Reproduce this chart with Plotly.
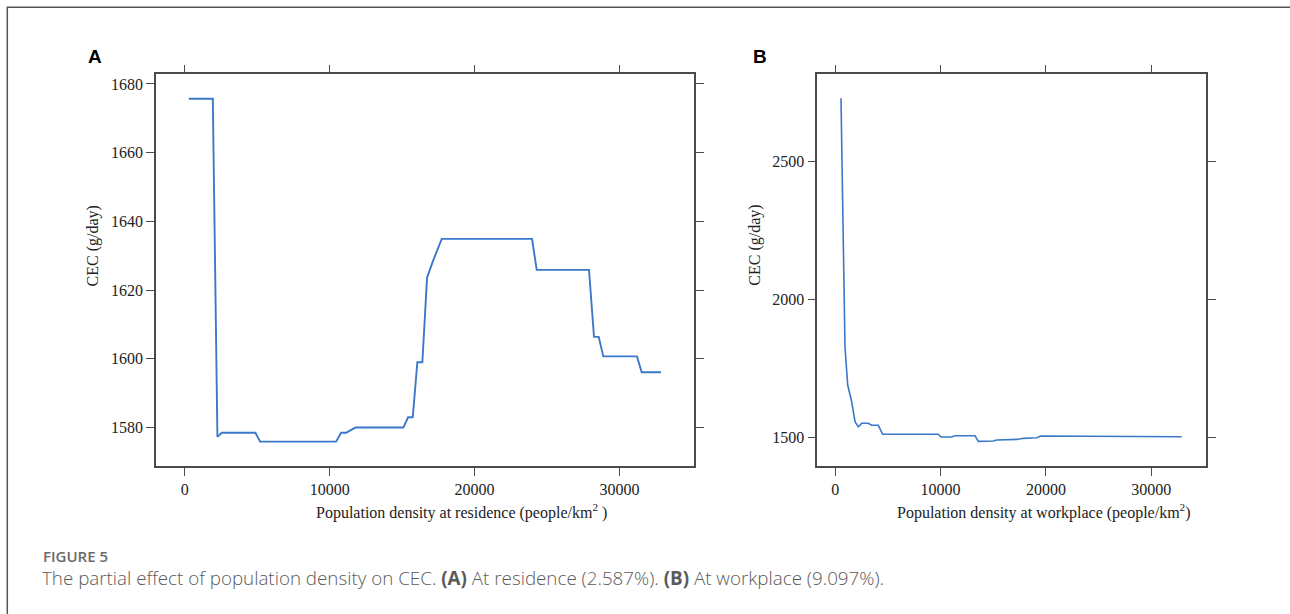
import plotly.graph_objects as go

# ---------------- data ----------------
res_x = [276, 1932, 2250, 2553, 4873, 5197, 10442, 10787, 11132, 11774, 15087, 15411,
         15735, 16052, 16397, 16722, 17115, 17736, 23968, 24292, 27902, 28247, 28571,
         28890, 31215, 31539, 32871]
res_y = [1675.7, 1675.7, 1577.3, 1578.5, 1578.5, 1575.9, 1575.9, 1578.5, 1578.5, 1580.0,
         1580.0, 1583.0, 1583.0, 1599.0, 1599.0, 1623.6, 1628.3, 1634.9, 1634.9, 1625.9,
         1625.9, 1606.4, 1606.4, 1600.7, 1600.7, 1596.1, 1596.1]

work_x = [541, 921, 1177, 1557, 1871, 2184, 2507, 3134, 3457, 4083, 4501, 9782, 10038,
          11054, 11368, 13267, 13580, 15005, 15328, 17379, 17854, 19127, 19507, 20077,
          20390, 32898]
work_y = [2729.8, 1827.9, 1688.8, 1628.2, 1555.6, 1537.0, 1549.7, 1549.7, 1542.5, 1542.5,
          1509.8, 1509.8, 1500.0, 1500.0, 1504.7, 1504.7, 1484.0, 1485.5, 1489.1, 1491.6,
          1495.2, 1497.5, 1503.6, 1503.6, 1501.1, 1501.1]

x_ticks = [0, 10000, 20000, 30000]
x_ticklabels = ["0", "10000", "20000", "30000"]
res_yticks = [1580, 1600, 1620, 1640, 1660, 1680]
work_yticks = [1500, 2000, 2500]

panel_labels = ["A", "B"]
y_title = "CEC (g/day)"
res_xtitle = "Population density at residence (people/km<sup>2</sup> )"
work_xtitle = "Population density at workplace (people/km<sup>2</sup>)"
fig_label = "FIGURE 5"
caption = ("The partial effect of population density on CEC. <b>(A)</b> At residence (2.587%). "
           "<b>(B)</b> At workplace (9.097%).")

# ---------------- layout helpers ----------------
W, H = 1290, 614
def px(x):
    return x / W
def py(y):
    return 1 - y / H

line_color = "#3a78c9"
axis_color = "#4a4a4a"
serif = "Liberation Serif, Times New Roman, serif"

fig = go.Figure()
fig.add_trace(go.Scatter(x=res_x, y=res_y, mode="lines",
                         line=dict(color=line_color, width=1.9),
                         xaxis="x", yaxis="y", showlegend=False, hoverinfo="skip"))
fig.add_trace(go.Scatter(x=work_x, y=work_y, mode="lines",
                         line=dict(color=line_color, width=1.6),
                         xaxis="x2", yaxis="y2", showlegend=False, hoverinfo="skip"))

def axis_common():
    return dict(showgrid=False, zeroline=False, showline=True, mirror="ticks",
                linecolor=axis_color, linewidth=1.6, ticks="outside", ticklen=8,
                tickwidth=1.3, tickcolor=axis_color,
                tickfont=dict(family=serif, size=16, color="#222222"))

fig.update_layout(
    width=W, height=H,
    margin=dict(l=0, r=0, t=0, b=0),
    paper_bgcolor="white", plot_bgcolor="white",
    xaxis=dict(domain=[px(156), px(694)], range=[-1990, 35150], anchor="y",
               tickmode="array", tickvals=x_ticks, ticktext=x_ticklabels, **axis_common()),
    yaxis=dict(domain=[py(465.7), py(74.3)], range=[1568.9, 1682.8], anchor="x",
               tickmode="array", tickvals=res_yticks,
               ticktext=[str(v) for v in res_yticks], **axis_common()),
    xaxis2=dict(domain=[px(817.3), px(1205.7)], range=[-1709, 35176], anchor="y2",
                tickmode="array", tickvals=x_ticks, ticktext=x_ticklabels, **axis_common()),
    yaxis2=dict(domain=[py(465.7), py(74.3)], range=[1395.8, 2817], anchor="x2",
                tickmode="array", tickvals=work_yticks,
                ticktext=[str(v) for v in work_yticks], **axis_common()),
)

ann = []
# panel letters
for lab, xx in zip(panel_labels, [95, 760]):
    ann.append(dict(x=px(xx), y=py(56), xref="paper", yref="paper", text=lab,
                    showarrow=False, xanchor="center", yanchor="middle",
                    font=dict(family="Liberation Sans, Arial, sans-serif", size=19,
                              color="black", weight="bold")))
# axis titles
for xx in [92.7, 755]:
    ann.append(dict(x=px(xx), y=py(245.7), xref="paper", yref="paper", text=y_title,
                    showarrow=False, textangle=-90, xanchor="center", yanchor="middle",
                    font=dict(family=serif, size=16, color="#222222")))
ann.append(dict(x=px(461), y=py(511), xref="paper", yref="paper", text=res_xtitle,
                showarrow=False, xanchor="center", yanchor="middle",
                font=dict(family=serif, size=16, color="#222222")))
ann.append(dict(x=px(1044), y=py(511), xref="paper", yref="paper", text=work_xtitle,
                showarrow=False, xanchor="center", yanchor="middle",
                font=dict(family=serif, size=16, color="#222222")))
# caption
ann.append(dict(x=px(41), y=py(555.5), xref="paper", yref="paper", text=fig_label,
                showarrow=False, xanchor="left", yanchor="middle",
                font=dict(family="Open Sans, sans-serif", size=15, color="#6a6a6a",
                          weight=600)))
ann.append(dict(x=px(40), y=py(578), xref="paper", yref="paper", text=caption,
                showarrow=False, xanchor="left", yanchor="middle",
                font=dict(family="Open Sans, sans-serif", size=18.8, color="#5a5a5a",
                          weight=300)))
fig.update_layout(annotations=ann)

# outer figure frame (left and top edges visible)
fig.add_shape(type="rect", xref="paper", yref="paper",
              x0=px(7.3), x1=px(1300), y0=py(630), y1=py(7.3),
              line=dict(color="#555555", width=1.5), fillcolor="rgba(0,0,0,0)")

fig.write_html("out.html")
